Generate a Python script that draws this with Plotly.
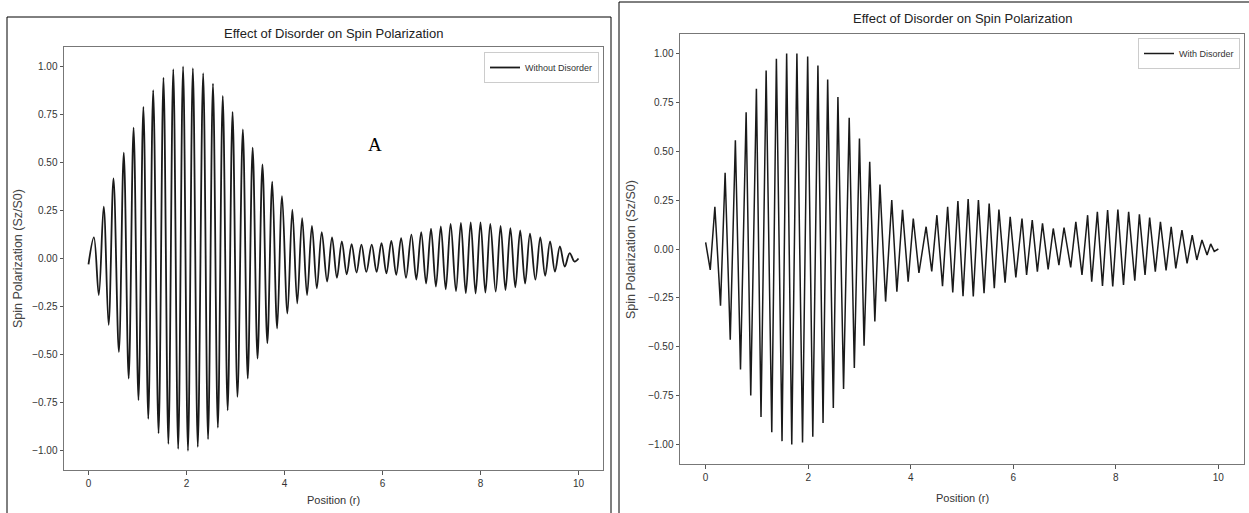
import plotly.graph_objects as go

# ---------------- data (local extrema of each curve) -------------
r_without = [0.00, 0.11, 0.21, 0.31, 0.41, 0.51, 0.62, 0.72, 0.82, 0.92,
             1.02, 1.12, 1.22, 1.32, 1.43, 1.53, 1.63, 1.73, 1.83, 1.93,
             2.03, 2.13, 2.23, 2.34, 2.44, 2.54, 2.64, 2.74, 2.84, 2.94,
             3.04, 3.15, 3.25, 3.35, 3.45, 3.55, 3.65, 3.75, 3.85, 3.95,
             4.06, 4.16, 4.26, 4.36, 4.46, 4.56, 4.66, 4.76, 4.87, 4.97,
             5.07, 5.17, 5.27, 5.37, 5.47, 5.57, 5.67, 5.78, 5.88, 5.98,
             6.08, 6.18, 6.28, 6.38, 6.48, 6.59, 6.69, 6.79, 6.89, 6.99,
             7.09, 7.19, 7.29, 7.39, 7.50, 7.60, 7.70, 7.80, 7.90, 8.00,
             8.10, 8.20, 8.31, 8.41, 8.51, 8.61, 8.71, 8.81, 8.91, 9.01,
             9.12, 9.22, 9.32, 9.42, 9.52, 9.62, 9.72, 9.82, 9.92, 10.00]
s_without = [-0.03, 0.11, -0.19, 0.27, -0.345, 0.416, -0.486, 0.55, -0.625, 0.68,
             -0.737, 0.788, -0.834, 0.875, -0.91, 0.94, -0.964, 0.985, -0.99, 0.999,
             -1.0, 0.99, -0.98, 0.964, -0.94, 0.91, -0.88, 0.846, -0.79, 0.762,
             -0.72, 0.672, -0.625, 0.576, -0.52, 0.49, -0.44, 0.40, -0.364, 0.324,
             -0.286, 0.254, -0.233, 0.21, -0.19, 0.17, -0.155, 0.137, -0.12, 0.11,
             -0.10, 0.089, -0.082, 0.075, -0.073, 0.072, -0.07, 0.072, -0.07, 0.08,
             -0.077, 0.092, -0.085, 0.106, -0.10, 0.124, -0.11, 0.137, -0.13, 0.155,
             -0.146, 0.167, -0.16, 0.18, -0.17, 0.185, -0.18, 0.188, -0.182, 0.188,
             -0.178, 0.18, -0.172, 0.17, -0.164, 0.158, -0.15, 0.146, -0.13, 0.129,
             -0.11, 0.11, -0.09, 0.089, -0.068, 0.063, -0.042, 0.028, -0.016, 0.0]

r_with = [0.00, 0.09, 0.18, 0.29, 0.38, 0.48, 0.58, 0.68, 0.79, 0.88,
          0.99, 1.08, 1.18, 1.29, 1.38, 1.49, 1.58, 1.68, 1.78, 1.89,
          1.99, 2.09, 2.19, 2.29, 2.38, 2.49, 2.58, 2.69, 2.80, 2.90,
          3.00, 3.09, 3.20, 3.30, 3.40, 3.51, 3.63, 3.73, 3.84, 3.95,
          4.05, 4.16, 4.30, 4.41, 4.51, 4.62, 4.72, 4.82, 4.92, 5.02,
          5.12, 5.22, 5.32, 5.43, 5.53, 5.63, 5.72, 5.84, 5.94, 6.05,
          6.17, 6.26, 6.37, 6.47, 6.57, 6.68, 6.78, 6.89, 6.99, 7.12,
          7.22, 7.34, 7.45, 7.53, 7.64, 7.74, 7.84, 7.94, 8.04, 8.15,
          8.25, 8.37, 8.46, 8.57, 8.66, 8.77, 8.87, 8.98, 9.08, 9.17,
          9.29, 9.39, 9.49, 9.58, 9.68, 9.78, 9.85, 9.92, 10.00]
s_with = [0.034, -0.107, 0.216, -0.29, 0.39, -0.464, 0.556, -0.617, 0.70, -0.75,
          0.82, -0.859, 0.913, -0.937, 0.973, -0.983, 1.0, -1.0, 1.0, -0.99,
          0.985, -0.96, 0.939, -0.89, 0.867, -0.813, 0.777, -0.716, 0.672, -0.609,
          0.565, -0.495, 0.446, -0.371, 0.33, -0.269, 0.25, -0.218, 0.20, -0.167,
          0.156, -0.122, 0.114, -0.115, 0.173, -0.19, 0.216, -0.222, 0.245, -0.242,
          0.255, -0.243, 0.25, -0.226, 0.233, -0.20, 0.202, -0.172, 0.165, -0.145,
          0.156, -0.133, 0.148, -0.116, 0.131, -0.104, 0.105, -0.082, 0.11, -0.094,
          0.139, -0.133, 0.173, -0.167, 0.19, -0.189, 0.199, -0.192, 0.202, -0.184,
          0.19, -0.162, 0.178, -0.133, 0.161, -0.116, 0.139, -0.11, 0.114, -0.099,
          0.097, -0.073, 0.071, -0.056, 0.046, -0.031, 0.026, -0.012, 0.0]

x_ticks = [0, 2, 4, 6, 8, 10]
y_ticks = [-1.0, -0.75, -0.5, -0.25, 0.0, 0.25, 0.5, 0.75, 1.0]

title_text = "Effect of Disorder on Spin Polarization"
x_label = "Position (r)"
y_label = "Spin Polarization (Sz/S0)"

# ---------------- figure -------------
W, H = 1249, 513
FONT = "Liberation Sans Narrow, Liberation Sans, DejaVu Sans, sans-serif"
TXT = "#333333"

fig = go.Figure()
fig.add_trace(go.Scatter(x=r_without, y=s_without, mode="lines", name="Without Disorder",
                         line=dict(color="#1a1a1a", width=1.8, shape="spline", smoothing=1.0),
                         xaxis="x", yaxis="y", legend="legend"))
fig.add_trace(go.Scatter(x=r_with, y=s_with, mode="lines", name="With Disorder",
                         line=dict(color="#1a1a1a", width=1.5),
                         xaxis="x2", yaxis="y2", legend="legend2"))

def px_x(p):
    return p / W

def px_y(p):
    return 1 - p / H

ax_common = dict(showline=True, mirror=True, linecolor="#777777", linewidth=1,
                 ticks="outside", ticklen=3.5, tickcolor="#555555", tickwidth=1,
                 showgrid=False, zeroline=False,
                 tickfont=dict(family=FONT, size=10, color=TXT))

fig.update_layout(
    width=W, height=H, margin=dict(l=0, r=0, t=0, b=0),
    paper_bgcolor="white", plot_bgcolor="white",
    showlegend=True,
    xaxis=dict(domain=[px_x(64), px_x(603)], range=[-0.5, 10.5], tickvals=x_ticks,
               anchor="y", **ax_common),
    yaxis=dict(domain=[px_y(470), px_y(47)], range=[-1.1, 1.1], tickvals=y_ticks, tickformat=".2f",
               anchor="x", **ax_common),
    xaxis2=dict(domain=[px_x(680), px_x(1244)], range=[-0.5, 10.5], tickvals=x_ticks,
                anchor="y2", **ax_common),
    yaxis2=dict(domain=[px_y(464), px_y(34)], range=[-1.1, 1.1], tickvals=y_ticks, tickformat=".2f",
                anchor="x2", **ax_common),
    legend=dict(x=px_x(599), y=px_y(52), xanchor="right", yanchor="top",
                bgcolor="white", bordercolor="#cccccc", borderwidth=1,
                font=dict(family=FONT, size=9, color=TXT), itemwidth=30),
    legend2=dict(x=px_x(1240), y=px_y(38), xanchor="right", yanchor="top",
                 bgcolor="white", bordercolor="#cccccc", borderwidth=1,
                 font=dict(family=FONT, size=9, color=TXT), itemwidth=30),
)

def label(text, x, y, size, color=TXT, angle=0, family=FONT):
    return dict(text=text, x=px_x(x), y=px_y(y), xref="paper", yref="paper",
                xanchor="center", yanchor="middle", textangle=angle,
                showarrow=False, font=dict(family=family, size=size, color=color))

annotations = [
    label(title_text, 334, 33, 13, "#222222"),
    label(title_text, 962, 19, 13, "#222222"),
    label(x_label, 334, 500, 11),
    label(x_label, 962, 498, 11),
    label(y_label, 18, 259, 12.5, color="#444444", angle=-90),
    label(y_label, 631, 250, 12.5, color="#444444", angle=-90),
    label("A", 375, 144, 19, "black", family="Liberation Serif, serif"),
]
fig.update_layout(annotations=annotations)

# outer frame lines of the two screenshot panels
frame = dict(color="black", width=1)
shapes = [
    dict(type="line", xref="paper", yref="paper", x0=px_x(7), x1=px_x(611), y0=px_y(17), y1=px_y(17), line=frame),
    dict(type="line", xref="paper", yref="paper", x0=px_x(7), x1=px_x(7), y0=px_y(17), y1=0, line=frame),
    dict(type="line", xref="paper", yref="paper", x0=px_x(611), x1=px_x(611), y0=px_y(17), y1=0, line=frame),
    dict(type="line", xref="paper", yref="paper", x0=px_x(619), x1=1, y0=px_y(2), y1=px_y(2), line=frame),
    dict(type="line", xref="paper", yref="paper", x0=px_x(619), x1=px_x(619), y0=px_y(2), y1=0, line=frame),
]
fig.update_layout(shapes=shapes)

fig.write_html("out.html", config={"displayModeBar": False})

# remove the browser's default page margin so the figure sits at (0, 0)
with open("out.html", "r", encoding="utf-8") as f:
    html = f.read()
html = html.replace("<body>", '<body style="margin:0;padding:0;overflow:hidden">', 1)
with open("out.html", "w", encoding="utf-8") as f:
    f.write(html)
